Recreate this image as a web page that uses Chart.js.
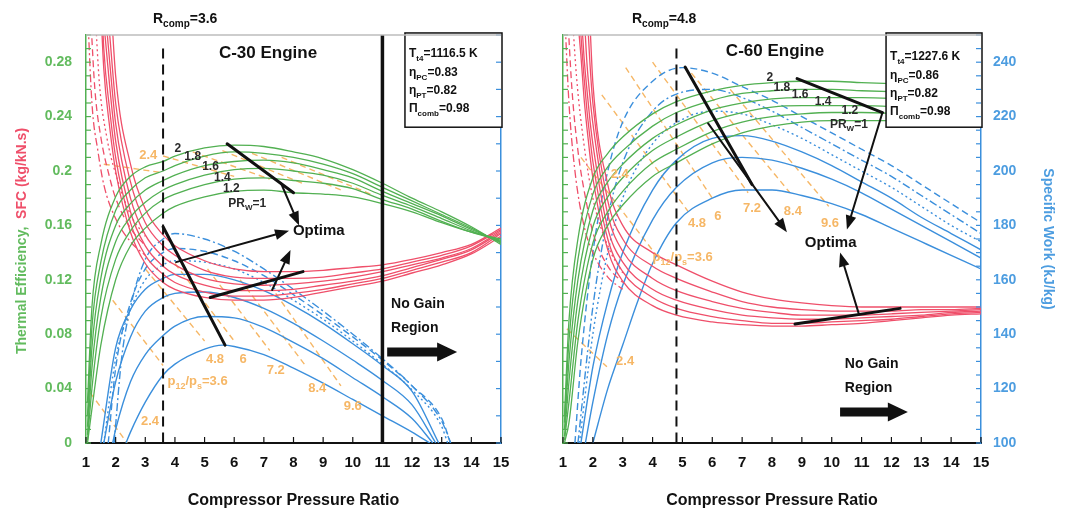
<!DOCTYPE html>
<html>
<head>
<meta charset="utf-8">
<script src="https://cdn.jsdelivr.net/npm/chart.js@4.4.1/dist/chart.umd.min.js"></script>
<style>
  html, body { margin: 0; padding: 0; background: #fff; }
  #wrap { position: relative; width: 1068px; height: 516px; }
  .panel { position: absolute; top: 0; width: 534px; height: 516px; }
</style>
</head>
<body>
<div id="wrap">
  <div class="panel" style="left:0"><canvas id="c30" width="534" height="516"></canvas></div>
  <div class="panel" style="left:534px"><canvas id="c60" width="534" height="516"></canvas></div>
</div>
<script>
// ---- data ----
const prW = ['2', '1.8', '1.6', '1.4', '1.2', '1'];
const isoLabels = ['2.4', '3.6', '4.8', '6', '7.2', '8.4', '9.6'];
const xTicks = [1, 15];

// C-30: thermal efficiency, one row per PR_W (2 ... 1)
const c30EtaX = [1.05, 1.2, 1.5, 2, 2.5, 3, 3.6, 4, 5, 6, 7, 8, 9, 10, 11, 12, 13, 14, 15];
const c30Eta = [
  [0.030, 0.100, 0.146, 0.181, 0.196, 0.203, 0.207, 0.211, 0.217, 0.219, 0.218, 0.214, 0.209, 0.201, 0.191, 0.180, 0.170, 0.159, 0.146],
  [0.020, 0.085, 0.133, 0.171, 0.186, 0.195, 0.200, 0.204, 0.211, 0.214, 0.213, 0.210, 0.205, 0.198, 0.188, 0.178, 0.168, 0.158, 0.147],
  [0.012, 0.070, 0.121, 0.160, 0.176, 0.186, 0.193, 0.197, 0.204, 0.207, 0.208, 0.206, 0.201, 0.195, 0.185, 0.176, 0.167, 0.157, 0.148],
  [0.006, 0.055, 0.107, 0.148, 0.166, 0.177, 0.186, 0.190, 0.197, 0.201, 0.202, 0.200, 0.197, 0.191, 0.182, 0.174, 0.165, 0.156, 0.148],
  [0.002, 0.040, 0.092, 0.135, 0.156, 0.169, 0.179, 0.183, 0.190, 0.194, 0.195, 0.193, 0.191, 0.187, 0.179, 0.172, 0.163, 0.155, 0.149],
  [0.000, 0.025, 0.072, 0.120, 0.145, 0.158, 0.169, 0.174, 0.181, 0.185, 0.186, 0.184, 0.183, 0.181, 0.176, 0.170, 0.162, 0.155, 0.150]
];
// C-30: SFC, rows PR_W 1 ... 2
const c30SfcX = [1.5, 1.6, 1.8, 2, 2.5, 3, 3.6, 4, 5, 6, 7, 8, 9, 10, 11, 12, 13, 14, 15];
const c30Sfc = [
  [null, null, 0.340, 0.270, 0.205, 0.172, 0.153, 0.145, 0.134, 0.128, 0.126, 0.126, 0.127, 0.129, 0.131, 0.135, 0.140, 0.146, 0.158],
  [null, null, 0.300, 0.250, 0.192, 0.162, 0.145, 0.138, 0.127, 0.122, 0.121, 0.121, 0.122, 0.125, 0.128, 0.133, 0.138, 0.145, 0.157],
  [null, 0.330, 0.280, 0.235, 0.180, 0.153, 0.137, 0.131, 0.121, 0.117, 0.116, 0.117, 0.119, 0.122, 0.126, 0.131, 0.136, 0.143, 0.156],
  [null, 0.310, 0.262, 0.222, 0.170, 0.145, 0.130, 0.124, 0.116, 0.112, 0.112, 0.113, 0.116, 0.119, 0.123, 0.129, 0.135, 0.142, 0.155],
  [0.340, 0.290, 0.245, 0.210, 0.162, 0.138, 0.124, 0.118, 0.111, 0.108, 0.108, 0.110, 0.113, 0.117, 0.121, 0.127, 0.133, 0.140, 0.154],
  [0.320, 0.275, 0.232, 0.200, 0.155, 0.132, 0.118, 0.113, 0.107, 0.105, 0.105, 0.107, 0.111, 0.115, 0.119, 0.125, 0.131, 0.139, 0.152]
];
const c30SfcDashDot = [[1.03, 0.33], [1.2, 0.25], [1.4, 0.215], [1.6, 0.19], [2, 0.165], [2.5, 0.148], [3, 0.138]];
const c30SfcDashed = [[1.12, 0.33], [1.3, 0.26], [1.5, 0.225], [1.8, 0.195], [2, 0.18], [2.5, 0.158], [3, 0.145]];
const c30SfcDotted = [[1.28, 0.33], [1.45, 0.265], [1.7, 0.225], [2, 0.198], [2.5, 0.168], [3, 0.152]];
// C-30: specific work (kJ/kg)
const c30Work1 = [[2.35, 0], [2.5, 8], [3, 30], [3.6, 50], [4, 58], [5, 69], [5.6, 72], [6, 71], [7, 65], [8, 55], [9, 44], [10, 32], [11, 20], [12, 8], [12.6, 0]];
const c30Work2 = [[1.9, 0], [2, 10], [2.5, 45], [3, 65], [3.6, 79], [4, 86], [5, 93], [6, 92], [7, 85], [8, 74], [9, 62], [10, 48], [11, 34], [12, 18], [12.7, 0]];
const c30Work3 = [[1.6, 0], [2, 45], [2.5, 78], [3, 97], [3.6, 107], [4, 110], [5, 111], [6, 107], [7, 99], [8, 88], [9, 75], [10, 61], [11, 46], [12, 28], [12.8, 0]];
const c30Work4 = [[1.5, 0], [2, 70], [2.5, 98], [3, 113], [3.6, 121], [4, 124], [5, 124], [6, 120], [7, 112], [8, 101], [9, 88], [10, 73], [11, 57], [12, 38], [12.9, 0]];
const c30WorkDotted = [[1.6, 0], [2, 62], [2.5, 98], [3, 120], [3.6, 131], [4, 134], [5, 133], [6, 128], [7, 118], [8, 105], [9, 91], [10, 75], [11, 58], [12, 39], [13, 12], [13.2, 0]];
const c30WorkDashed = [[1.75, 0], [2, 55], [2.5, 103], [3, 128], [3.6, 140], [4, 143], [5, 141], [6, 134], [7, 123], [8, 109], [9, 94], [10, 78], [11, 61], [12, 42], [13, 18], [13.3, 0]];
const c30WorkDashDot = [[1.95, 0], [2.2, 62], [2.5, 100], [3, 135], [3.6, 150], [4, 154], [5, 150], [6, 141], [7, 128], [8, 113], [9, 97], [10, 80], [11, 62], [12, 42], [13, 16], [13.3, 0]];
// C-30: constant p12/ps lines (work side, kJ/kg) and (efficiency side)
const c30IsoWork = [
  [[1.14, 37], [2.39, 0]], [[1.9, 105], [3.6, 57]], [[3.0, 128], [5.0, 75]], [[4.0, 132], [6.0, 75]],
  [[5.1, 128], [7.2, 68]], [[6.2, 120], [8.4, 57]], [[7.4, 110], [9.6, 42]]
];
const c30IsoEta = [
  [[1.6, 0.205], [3.5, 0.199]], [[3.6, 0.211], [6.0, 0.196]], [[4.6, 0.214], [7.2, 0.194]],
  [[5.6, 0.215], [8.4, 0.190]], [[6.6, 0.213], [9.6, 0.186]], [[7.6, 0.210], [10.6, 0.183]]
];

// C-60: thermal efficiency, rows PR_W 2 ... 1
const c60EtaX = [1.05, 1.2, 1.5, 2, 2.5, 3, 4, 4.8, 6, 7, 8, 9, 10, 11, 12.5];
const c60Eta = [
  [0.020, 0.090, 0.150, 0.195, 0.213, 0.225, 0.242, 0.251, 0.259, 0.263, 0.265, 0.266, 0.266, 0.265, 0.264],
  [0.015, 0.075, 0.135, 0.183, 0.203, 0.215, 0.233, 0.243, 0.252, 0.257, 0.259, 0.260, 0.260, 0.259, 0.258],
  [0.010, 0.060, 0.120, 0.171, 0.192, 0.205, 0.224, 0.234, 0.245, 0.250, 0.253, 0.254, 0.254, 0.254, 0.253],
  [0.005, 0.045, 0.105, 0.159, 0.181, 0.195, 0.215, 0.225, 0.237, 0.243, 0.247, 0.248, 0.248, 0.248, 0.247],
  [0.002, 0.030, 0.090, 0.147, 0.170, 0.185, 0.206, 0.216, 0.229, 0.236, 0.240, 0.242, 0.243, 0.243, 0.242],
  [0.000, 0.015, 0.075, 0.135, 0.160, 0.175, 0.196, 0.206, 0.220, 0.228, 0.233, 0.236, 0.237, 0.237, 0.237]
];
// C-60: SFC, rows PR_W 1 ... 2
const c60SfcX = [1.5, 1.6, 1.7, 1.8, 1.9, 2, 2.5, 3, 4, 4.8, 6, 7, 8, 9, 10, 11, 12, 13, 14, 15];
const c60Sfc = [
  [null, null, null, null, 0.310, 0.265, 0.190, 0.160, 0.140, 0.131, 0.119, 0.111, 0.106, 0.103, 0.101, 0.100, 0.100, 0.100, 0.100, 0.100],
  [null, null, null, 0.320, 0.280, 0.250, 0.178, 0.150, 0.130, 0.121, 0.111, 0.104, 0.100, 0.098, 0.097, 0.097, 0.097, 0.098, 0.098, 0.099],
  [null, null, 0.320, 0.280, 0.255, 0.235, 0.168, 0.141, 0.121, 0.112, 0.104, 0.099, 0.096, 0.094, 0.094, 0.094, 0.095, 0.096, 0.097, 0.098],
  [null, 0.320, 0.285, 0.260, 0.238, 0.220, 0.158, 0.133, 0.113, 0.105, 0.098, 0.094, 0.092, 0.091, 0.091, 0.092, 0.093, 0.094, 0.096, 0.097],
  [0.330, 0.300, 0.270, 0.245, 0.225, 0.207, 0.150, 0.126, 0.107, 0.099, 0.093, 0.090, 0.088, 0.088, 0.089, 0.090, 0.091, 0.093, 0.095, 0.096],
  [0.310, 0.285, 0.255, 0.232, 0.212, 0.195, 0.142, 0.119, 0.101, 0.094, 0.089, 0.087, 0.086, 0.086, 0.087, 0.088, 0.090, 0.092, 0.094, 0.095]
];
const c60SfcDashDot = [[1.03, 0.33], [1.2, 0.25], [1.4, 0.20], [1.7, 0.16], [2, 0.14], [2.5, 0.122], [3, 0.113]];
const c60SfcDashed = [[1.12, 0.33], [1.3, 0.26], [1.5, 0.215], [1.8, 0.175], [2, 0.155], [2.5, 0.13], [3, 0.118]];
const c60SfcDotted = [[1.27, 0.33], [1.45, 0.27], [1.7, 0.22], [2, 0.18], [2.5, 0.145], [3, 0.125]];
// C-60: specific work (kJ/kg)
const c60Work1 = [[2.0, 100], [2.5, 120], [3, 136], [3.5, 152], [4, 166], [4.8, 181], [6, 190], [7, 193], [8, 193], [9, 191], [10, 188], [11, 184], [12, 179], [13, 174], [14, 169], [15, 164]];
const c60Work2 = [[1.75, 100], [2, 115], [2.5, 140], [3, 158], [4, 182], [4.8, 194], [6, 203], [7, 205], [8, 204], [9, 201], [10, 197], [11, 192], [12, 186], [13, 180], [14, 174], [15, 168]];
const c60Work3 = [[1.6, 100], [2, 128], [2.5, 152], [3, 170], [4, 193], [4.8, 204], [6, 212], [7, 213], [8, 211], [9, 207], [10, 202], [11, 196], [12, 190], [13, 183], [14, 177], [15, 171]];
const c60WorkDotted = [[1.55, 100], [2, 140], [2.5, 170], [3, 190], [4, 210], [5, 219], [6, 222], [7, 221], [8, 217], [9, 212], [10, 206], [11, 200], [12, 194], [13, 187], [14, 180], [15, 174]];
const c60WorkDashDot = [[1.5, 100], [2, 150], [2.5, 183], [3, 203], [4, 222], [5, 229], [6, 230], [7, 227], [8, 222], [9, 216], [10, 210], [11, 204], [12, 198], [13, 191], [14, 184], [15, 177]];
const c60WorkDashed = [[1.4, 100], [1.6, 130], [2, 170], [2.5, 200], [3, 218], [4, 233], [5, 238], [6, 236], [7, 231], [8, 226], [9, 220], [10, 214], [11, 208], [12, 202], [13, 195], [14, 188], [15, 181]];
const c60IsoWork = [
  [[1.13, 142], [2.47, 128]], [[1.6, 205], [4.2, 168]], [[2.3, 228], [5.2, 185]], [[3.1, 238], [6.0, 190]],
  [[4.0, 240], [7.2, 192]], [[5.3, 236], [8.6, 192]], [[6.6, 230], [9.9, 187]]
];

// ---- look ----
const FONT = '"Liberation Sans", Arial, sans-serif';
const GREEN = '#52b052', GREEN_TXT = '#62bb5e';
const RED = '#ef4f6a';
const BLUE = '#3b8fdc', BLUE_TXT = '#4d9de0';
const ORANGE = '#f6b766';
const INK = '#111';
const DASHED = [7, 4], DASHDOT = [8, 3, 2, 3], DOTTED = [2, 3];

function pts(xs, ys) {
  const out = [];
  xs.forEach((x, i) => { if (ys[i] !== null) out.push({ x: x, y: ys[i] }); });
  return out;
}
function pairs(list) { return list.map(p => ({ x: p[0], y: p[1] })); }
function curve(data, color, axis, dash, width) {
  return {
    data: data, borderColor: color, borderWidth: width || 1.3, borderDash: dash || [],
    yAxisID: axis, pointRadius: 0, fill: false, cubicInterpolationMode: 'monotone'
  };
}

// ---- drawing helpers for the annotations ----
function rich(ctx, x, y, parts, size, color, align) {
  const big = 'bold ' + size + 'px ' + FONT;
  const small = 'bold ' + Math.round(size * 0.68) + 'px ' + FONT;
  ctx.save();
  ctx.fillStyle = color;
  ctx.textBaseline = 'alphabetic';
  let w = 0;
  parts.forEach((p, i) => { ctx.font = i % 2 ? small : big; w += ctx.measureText(p).width; });
  let cx = align === 'center' ? x - w / 2 : x;
  const base = y + size * 0.36;
  parts.forEach((p, i) => {
    ctx.font = i % 2 ? small : big;
    ctx.fillText(p, cx, base + (i % 2 ? size * 0.3 : 0));
    cx += ctx.measureText(p).width;
  });
  ctx.restore();
}
function arrow(ctx, x1, y1, x2, y2, w, head) {
  const a = Math.atan2(y2 - y1, x2 - x1), c = Math.cos(a), s = Math.sin(a);
  ctx.lineWidth = w;
  ctx.beginPath(); ctx.moveTo(x1, y1); ctx.lineTo(x2 - head * 0.8 * c, y2 - head * 0.8 * s); ctx.stroke();
  ctx.beginPath();
  ctx.moveTo(x2, y2);
  ctx.lineTo(x2 - head * c + head * 0.38 * s, y2 - head * s - head * 0.38 * c);
  ctx.lineTo(x2 - head * c - head * 0.38 * s, y2 - head * s + head * 0.38 * c);
  ctx.closePath(); ctx.fill();
}
function blockArrow(ctx, x1, x2, y) {
  ctx.beginPath();
  ctx.moveTo(x1, y - 4.5); ctx.lineTo(x2 - 20, y - 4.5); ctx.lineTo(x2 - 20, y - 9.5);
  ctx.lineTo(x2, y); ctx.lineTo(x2 - 20, y + 9.5); ctx.lineTo(x2 - 20, y + 4.5); ctx.lineTo(x1, y + 4.5);
  ctx.closePath(); ctx.fill();
}

function inwardTicks(chart, workStep) {
  const ctx = chart.ctx, a = chart.chartArea;
  const sx = chart.scales.x, sy = chart.scales.y, s2 = chart.scales.y2;
  ctx.save();
  ctx.lineWidth = 1.2;
  ctx.strokeStyle = INK;
  for (let i = 1; i <= 15; i++) {
    const p = sx.getPixelForValue(i);
    ctx.beginPath(); ctx.moveTo(p, a.bottom); ctx.lineTo(p, a.bottom - 6); ctx.stroke();
  }
  ctx.strokeStyle = GREEN;
  for (let i = 0; i <= 30; i++) {
    const p = sy.getPixelForValue(i / 100);
    ctx.beginPath(); ctx.moveTo(a.left, p); ctx.lineTo(a.left + 5, p); ctx.stroke();
  }
  ctx.strokeStyle = BLUE;
  for (let v = s2.min; v <= s2.max; v += workStep) {
    const p = s2.getPixelForValue(v);
    ctx.beginPath(); ctx.moveTo(a.right, p); ctx.lineTo(a.right - 5, p); ctx.stroke();
  }
  // light frame line on top
  ctx.strokeStyle = '#bdbdbd';
  ctx.lineWidth = 1.5;
  ctx.beginPath(); ctx.moveTo(a.left, a.top); ctx.lineTo(a.right, a.top); ctx.stroke();
  ctx.restore();
}

function notesPlugin(n) {
  return {
    id: 'notes',
    afterDatasetsDraw(chart) {
      const ctx = chart.ctx, a = chart.chartArea;
      const X = v => chart.scales.x.getPixelForValue(v);
      const Y = v => chart.scales.y.getPixelForValue(v);
      ctx.save();
      // p12/ps labels
      n.iso.forEach(t => {
        if (t.parts) rich(ctx, X(t.x), Y(t.y), t.parts, 13, ORANGE, 'left');
        else rich(ctx, X(t.x), Y(t.y), [t.text], 13, ORANGE, 'center');
      });
      // R_comp dashed line
      ctx.strokeStyle = INK; ctx.lineWidth = 2; ctx.setLineDash([10, 6]);
      ctx.beginPath(); ctx.moveTo(X(n.rcomp), Y(0.29)); ctx.lineTo(X(n.rcomp), a.bottom); ctx.stroke();
      ctx.setLineDash([]);
      if (n.wall) {
        ctx.lineWidth = 3.5;
        ctx.beginPath(); ctx.moveTo(X(n.wall), a.top); ctx.lineTo(X(n.wall), a.bottom); ctx.stroke();
      }
      // optimum lines and arrows
      ctx.fillStyle = INK; ctx.strokeStyle = INK; ctx.lineCap = 'round';
      n.bars.forEach(b => {
        ctx.lineWidth = 3;
        ctx.beginPath(); ctx.moveTo(X(b[0]), Y(b[1])); ctx.lineTo(X(b[2]), Y(b[3])); ctx.stroke();
      });
      n.arrows.forEach(b => arrow(ctx, X(b[0]), Y(b[1]), X(b[2]), Y(b[3]), 2, 14));
      ctx.lineCap = 'butt';
      rich(ctx, X(n.optima[0]), Y(n.optima[1]), ['Optima'], 15, INK, 'left');
      // PR_W labels
      n.pr.forEach(t => rich(ctx, X(t[1]), Y(t[2]), [t[0]], 12, '#2a2a2a', 'center'));
      rich(ctx, X(n.pr1[0]), Y(n.pr1[1]), ['PR', 'W', '=1'], 12, '#2a2a2a', 'left');
      // no-gain region
      rich(ctx, X(n.noGain[0]), Y(n.noGain[1]), ['No Gain'], 14, INK, 'left');
      rich(ctx, X(n.noGain[0]), Y(n.noGain[2]), ['Region'], 14, INK, 'left');
      blockArrow(ctx, X(n.noGainArrow[0]), X(n.noGainArrow[1]), Y(n.noGainArrow[2]));
      // parameter box
      const bx = X(n.box.x0), by = Y(0.3015), bw = a.right + 1 - bx, bh = Y(0.2322) - by;
      ctx.fillStyle = '#fff'; ctx.fillRect(bx, by, bw, bh);
      ctx.strokeStyle = INK; ctx.lineWidth = 1.5; ctx.strokeRect(bx, by, bw, bh);
      const tx = bx + 4;
      rich(ctx, tx, Y(n.box.rows[0]), ['T', 't4', '=' + n.box.tt4], 12, INK, 'left');
      rich(ctx, tx, Y(n.box.rows[1]), ['\u03b7', 'PC', '=' + n.box.etaPC], 12, INK, 'left');
      rich(ctx, tx, Y(n.box.rows[2]), ['\u03b7', 'PT', '=' + n.box.etaPT], 12, INK, 'left');
      rich(ctx, tx, Y(n.box.rows[3]), ['\u03a0', 'comb', '=' + n.box.pic], 12, INK, 'left');
      // titles
      rich(ctx, X(n.engine[1]), Y(n.engine[2]), [n.engine[0]], 17, INK, 'center');
      rich(ctx, X(n.rcompText), Y(0.3125), ['R', 'comp', '=' + n.rcomp], 14, INK, 'left');
      ctx.restore();
    },
    afterDraw(chart) {
      inwardTicks(chart, n.workStep);
      if (n.leftTitle) {
        const ctx = chart.ctx;
        ctx.save();
        ctx.translate(22, 241);
        ctx.rotate(-Math.PI / 2);
        ctx.font = 'bold 14px ' + FONT;
        ctx.textBaseline = 'middle';
        const g = 'Thermal Efficiency,', r = '  SFC (kg/kN.s)';
        const w = ctx.measureText(g + r).width;
        ctx.fillStyle = GREEN_TXT; ctx.fillText(g, -w / 2, 0);
        ctx.fillStyle = RED; ctx.fillText(r, -w / 2 + ctx.measureText(g).width, 0);
        ctx.restore();
      }
    }
  };
}

function baseScales(workMin, workMax, workStep, showEtaLabels, leftWidth, rightWidth, workTitle) {
  return {
    x: {
      type: 'linear', min: xTicks[0], max: xTicks[1],
      ticks: { stepSize: 1, color: INK, font: { family: FONT, size: 15, weight: 'bold' }, padding: 11, maxRotation: 0, autoSkip: false },
      grid: { drawOnChartArea: false, drawTicks: false },
      border: { color: INK, width: 2 },
      title: { display: true, text: 'Compressor Pressure Ratio', color: INK, font: { family: FONT, size: 16, weight: 'bold' }, padding: { top: 4, bottom: 0 } },
      afterFit(s) { s.height = 67; }
    },
    y: {
      position: 'left', min: 0, max: 0.3,
      ticks: {
        display: showEtaLabels, stepSize: 0.04, includeBounds: false, color: GREEN_TXT, padding: 14,
        font: { family: FONT, size: 14, weight: 'bold' },
        callback: v => String(parseFloat(v.toFixed(2)))
      },
      grid: { drawOnChartArea: false, drawTicks: false },
      border: { color: GREEN, width: 1.5 },
      afterFit(s) { s.width = leftWidth; }
    },
    y2: {
      position: 'right', min: workMin, max: workMax,
      ticks: {
        display: !!workTitle, stepSize: workStep, includeBounds: false, color: BLUE_TXT, padding: 12,
        font: { family: FONT, size: 14, weight: 'bold' }
      },
      grid: { drawOnChartArea: false, drawTicks: false },
      border: { color: BLUE, width: 1.5 },
      title: { display: !!workTitle, text: workTitle || '', color: BLUE_TXT, font: { family: FONT, size: 14, weight: 'bold' }, padding: { top: 6, bottom: 0 } },
      afterFit(s) { s.width = rightWidth; }
    }
  };
}

function buildSets(etaX, eta, sfcX, sfc, sfcAlt, work, isoWork, isoEta) {
  const sets = [];
  eta.forEach(row => sets.push(curve(pts(etaX, row), GREEN, 'y')));
  sfc.forEach(row => sets.push(curve(pts(sfcX, row), RED, 'y')));
  sets.push(curve(pairs(sfcAlt[0]), RED, 'y', DASHDOT));
  sets.push(curve(pairs(sfcAlt[1]), RED, 'y', DASHED));
  sets.push(curve(pairs(sfcAlt[2]), RED, 'y', DOTTED));
  work.forEach(w => sets.push(curve(pairs(w[0]), BLUE, 'y2', w[1], 1.4)));
  isoWork.forEach(l => sets.push(curve(pairs(l), ORANGE, 'y2', [6, 4], 1.4)));
  (isoEta || []).forEach(l => sets.push(curve(pairs(l), ORANGE, 'y', [6, 4], 1.4)));
  return sets;
}

function common(scales, padRight) {
  return {
    responsive: false, animation: false, events: [],
    layout: { padding: { top: 35, bottom: 6, left: 0, right: padRight } },
    plugins: { legend: { display: false }, tooltip: { enabled: false } },
    scales: scales
  };
}

// ---- C-30 engine ----
new Chart(document.getElementById('c30'), {
  type: 'line',
  data: {
    datasets: buildSets(
      c30EtaX, c30Eta, c30SfcX, c30Sfc, [c30SfcDashDot, c30SfcDashed, c30SfcDotted],
      [[c30Work1], [c30Work2], [c30Work3], [c30Work4], [c30WorkDotted, DOTTED], [c30WorkDashed, DASHED], [c30WorkDashDot, DASHDOT]],
      c30IsoWork, c30IsoEta)
  },
  options: common(baseScales(0, 300, 20, true, 86, 33, null), 0),
  plugins: [notesPlugin({
    rcomp: 3.6, rcompText: 3.26, wall: 11, workStep: 20,
    engine: ['C-30 Engine', 7.14, 0.2875],
    box: { x0: 11.76, rows: [0.2868, 0.2728, 0.2596, 0.2463], tt4: '1116.5 K', etaPC: '0.83', etaPT: '0.82', pic: '0.98' },
    pr: [[prW[0], 4.1, 0.217], [prW[1], 4.6, 0.211], [prW[2], 5.2, 0.204], [prW[3], 5.6, 0.196], [prW[4], 5.9, 0.188]],
    pr1: [5.8, 0.177],
    bars: [[5.76, 0.220, 8.0, 0.184], [3.6, 0.159, 5.69, 0.072], [5.19, 0.107, 8.32, 0.126]],
    arrows: [[7.58, 0.191, 8.19, 0.160], [4.04, 0.133, 7.85, 0.156], [7.28, 0.1125, 7.9, 0.142]],
    optima: [7.98, 0.157],
    noGain: [11.29, 0.103, 0.085], noGainArrow: [11.16, 13.52, 0.067],
    iso: [
      { text: isoLabels[0], x: 3.1, y: 0.212 }, { text: isoLabels[0], x: 3.16, y: 0.017 },
      { parts: ['p', '12', '/p', 's', '=' + isoLabels[1]], x: 3.75, y: 0.046 },
      { text: isoLabels[2], x: 5.35, y: 0.0625 }, { text: isoLabels[3], x: 6.3, y: 0.0625 },
      { text: isoLabels[4], x: 7.4, y: 0.054 }, { text: isoLabels[5], x: 8.8, y: 0.041 },
      { text: isoLabels[6], x: 10.0, y: 0.028 }
    ],
    leftTitle: true
  })]
});

// ---- C-60 engine ----
new Chart(document.getElementById('c60'), {
  type: 'line',
  data: {
    datasets: buildSets(
      c60EtaX, c60Eta, c60SfcX, c60Sfc, [c60SfcDashDot, c60SfcDashed, c60SfcDotted],
      [[c60Work1], [c60Work2], [c60Work3], [c60WorkDotted, DOTTED], [c60WorkDashDot, DASHDOT], [c60WorkDashed, DASHED]],
      c60IsoWork, null)
  },
  options: common(baseScales(100, 250, 20, false, 29, 81, 'Specific Work (kJ/kg)'), 6),
  plugins: [notesPlugin({
    rcomp: 4.8, rcompText: 3.31, wall: null, workStep: 5,
    engine: ['C-60 Engine', 8.1, 0.289],
    box: { x0: 11.82, rows: [0.2846, 0.2706, 0.2574, 0.2441], tt4: '1227.6 K', etaPC: '0.86', etaPT: '0.82', pic: '0.98' },
    pr: [[prW[0], 7.93, 0.269], [prW[1], 8.33, 0.262], [prW[2], 8.94, 0.257], [prW[3], 9.71, 0.252], [prW[4], 10.61, 0.245]],
    pr1: [9.94, 0.235],
    bars: [[8.84, 0.268, 11.7, 0.243], [5.09, 0.2765, 7.33, 0.190], [8.77, 0.0875, 12.29, 0.099]],
    arrows: [[11.7, 0.243, 10.51, 0.157], [5.86, 0.235, 8.5, 0.155], [10.9, 0.0955, 10.28, 0.140]],
    optima: [9.1, 0.148],
    noGain: [10.44, 0.0588, 0.041], noGainArrow: [10.28, 12.55, 0.0228],
    iso: [
      { text: isoLabels[0], x: 2.9, y: 0.198 }, { text: isoLabels[0], x: 3.08, y: 0.061 },
      { parts: ['p', '12', '/p', 's', '=' + isoLabels[1]], x: 4.0, y: 0.137 },
      { text: isoLabels[2], x: 5.49, y: 0.1625 }, { text: isoLabels[3], x: 6.19, y: 0.1676 },
      { text: isoLabels[4], x: 7.33, y: 0.173 }, { text: isoLabels[5], x: 8.7, y: 0.171 },
      { text: isoLabels[6], x: 9.94, y: 0.1625 }
    ],
    leftTitle: false
  })]
});
</script>
</body>
</html>
